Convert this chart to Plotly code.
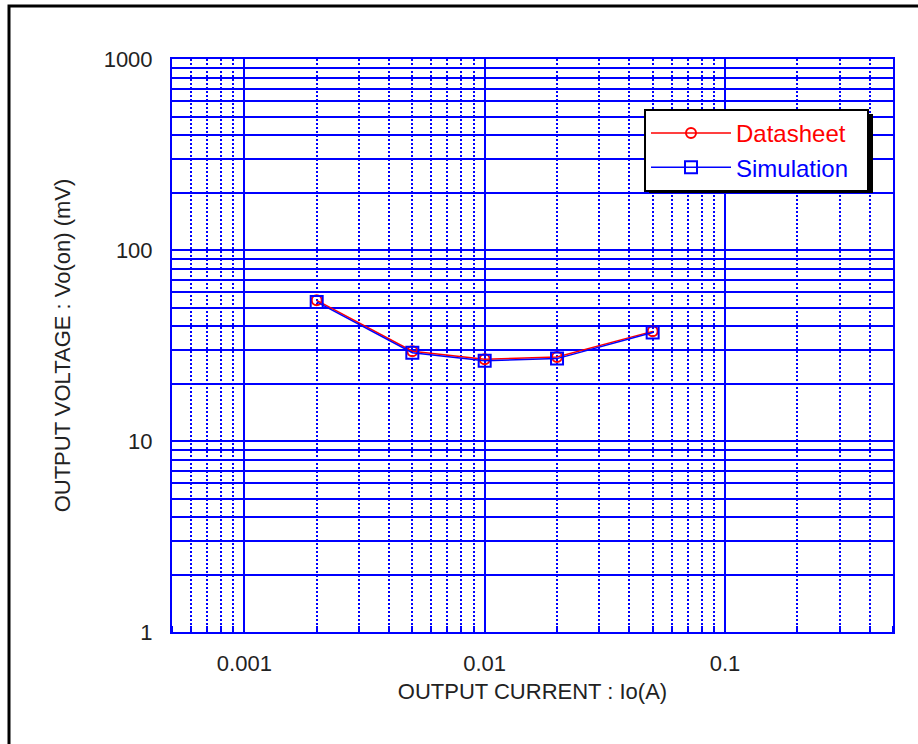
import plotly.graph_objects as go
import math

# Data
current_a = [0.002, 0.005, 0.01, 0.02, 0.05]
datasheet_mv = [54.5, 29.5, 26.8, 27.5, 37.5]
simulation_mv = [53.5, 29.0, 26.3, 27.0, 37.0]

x_tickvals = [0.001, 0.01, 0.1]
x_ticktext = ["0.001", "0.01", "0.1"]
y_tickvals = [1, 10, 100, 1000]
y_ticktext = ["1", "10", "100", "1000"]

W, H = 918, 744
ML, MR, MT, MB = 172, 25, 59, 112
PW, PH = W - ML - MR, H - MT - MB

def px_x(px):
    return (px - ML) / PW

def px_y(py):
    return (H - MB - py) / PH

BLUE = "#0000ff"
RED = "#ff0000"
TXT = "#222222"
FONT = "Liberation Sans, Arial, sans-serif"

fig = go.Figure()
fig.add_trace(go.Scatter(
    x=current_a, y=datasheet_mv, mode="lines+markers",
    name="<span style='color:#ff0000'>Datasheet</span>&nbsp;&nbsp;",
    line=dict(color=RED, width=1.5),
    marker=dict(symbol="circle-open", size=10, color=RED, line=dict(width=2, color=RED)),
))
fig.add_trace(go.Scatter(
    x=current_a, y=simulation_mv, mode="lines+markers",
    name="<span style='color:#0000ff'>Simulation</span>&nbsp;&nbsp;",
    line=dict(color=BLUE, width=1.5),
    marker=dict(symbol="square-open", size=12, color=BLUE, line=dict(width=2, color=BLUE)),
))

axis_common = dict(
    type="log",
    showline=True, linecolor=BLUE, linewidth=2, mirror=True,
    showgrid=True, gridcolor=BLUE, gridwidth=2,
    ticks="", zeroline=False,
    tickfont=dict(family=FONT, size=22, color=TXT),
)

fig.update_xaxes(
    **axis_common,
    range=[math.log10(0.0005), math.log10(0.5)],
    tickvals=x_tickvals, ticktext=x_ticktext,
    ticklabelstandoff=11,
    minor=dict(dtick="D1", showgrid=True, gridcolor=BLUE, gridwidth=2,
               griddash="2px,2px", ticks="inside", ticklen=6, tickwidth=2,
               tickcolor=BLUE),
    title=dict(text="OUTPUT CURRENT : Io(A)", standoff=8,
               font=dict(family=FONT, size=22, color=TXT)),
)
fig.update_yaxes(
    **axis_common,
    range=[0, 3],
    tickvals=y_tickvals, ticktext=y_ticktext,
    ticklabelstandoff=13,
    minor=dict(dtick="D1", showgrid=True, gridcolor=BLUE, gridwidth=2,
               griddash="solid", ticks=""),
    title=dict(text="OUTPUT VOLTAGE : Vo(on) (mV)", standoff=27,
               font=dict(family=FONT, size=22, color=TXT)),
)

fig.update_layout(
    width=W, height=H,
    margin=dict(l=ML, r=MR, t=MT, b=MB, autoexpand=False),
    paper_bgcolor="white", plot_bgcolor="white",
    showlegend=True,
    legend=dict(
        x=px_x(644), y=px_y(109), xanchor="left", yanchor="top",
        bgcolor="white", bordercolor="black", borderwidth=2,
        font=dict(family=FONT, size=24, color=TXT),
        itemwidth=80, tracegroupgap=0,
    ),
    shapes=[
        # outer frame
        dict(type="rect", xref="paper", yref="paper",
             x0=px_x(9), x1=1.3, y0=-0.4, y1=px_y(6),
             line=dict(color="black", width=3), layer="below"),
        # legend shadow
        dict(type="rect", xref="paper", yref="paper",
             x0=px_x(649), x1=px_x(873), y0=px_y(193), y1=px_y(114),
             fillcolor="black", line=dict(width=0), layer="above"),
    ],
)

fig.write_html("out.html", config={"displayModeBar": False},
               post_script="document.body.style.margin='0px';")
